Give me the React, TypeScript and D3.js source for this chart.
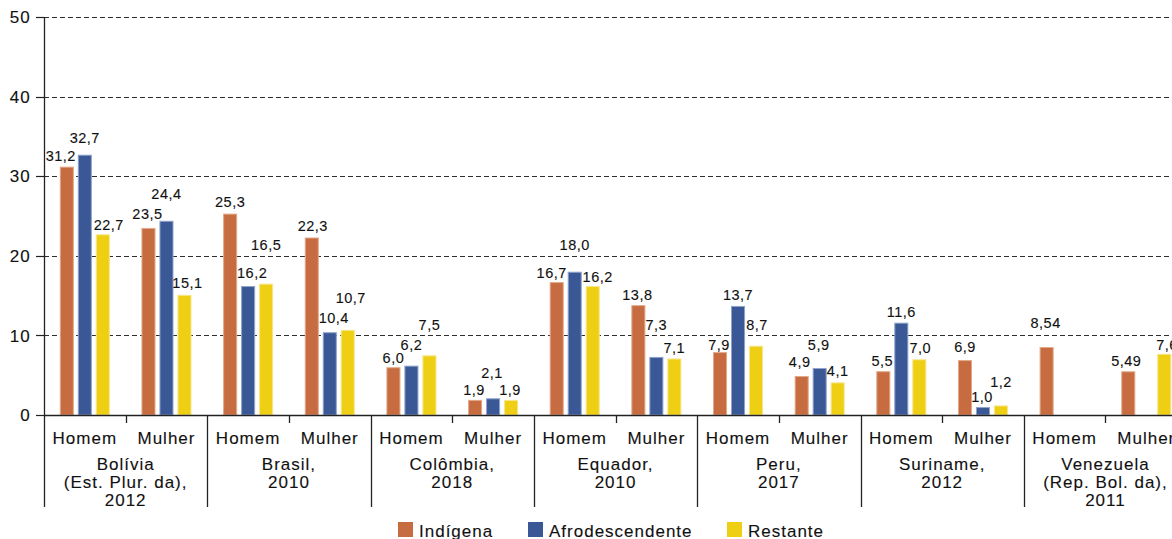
import React from 'react';
import * as d3 from 'd3';

const countries = [
  'Bolívia|(Est. Plur. da),|2012',
  'Brasil,|2010',
  'Colômbia,|2018',
  'Equador,|2010',
  'Peru,|2017',
  'Suriname,|2012',
  'Venezuela|(Rep. Bol. da),|2011',
];
const sexes = ['Homem', 'Mulher'];
const seriesNames = ['Indígena', 'Afrodescendente', 'Restante'];

const indigenaHomem = [31.2, 25.3, 6.0, 16.7, 7.9, 5.5, 8.54];
const indigenaMulher = [23.5, 22.3, 1.9, 13.8, 4.9, 6.9, 5.49];
const afroHomem = [32.7, 16.2, 6.2, 18.0, 13.7, 11.6, null];
const afroMulher = [24.4, 10.4, 2.1, 7.3, 5.9, 1.0, null];
const restanteHomem = [22.7, 16.5, 7.5, 16.2, 8.7, 7.0, null];
const restanteMulher = [15.1, 10.7, 1.9, 7.1, 4.1, 1.2, 7.69];
const decimals = [1, 1, 1, 1, 1, 1, 2];
const yTicks = [0, 10, 20, 30, 40, 50];

const values: (number | null)[][][] = [
  [indigenaHomem, indigenaMulher],
  [afroHomem, afroMulher],
  [restanteHomem, restanteMulher],
];

// label nudges [dx, lift above bar top] in px (layout only)
const labelNudge: number[][][][] = [
  [
    [[-6, 6], [0, 7], [0, 4], [-5, 4], [-1, 2], [-1, 5], [-1, 19]],
    [[-1, 9], [1, 6], [-1, 5], [-1, 5], [-2, 9], [0, 8], [-2, 5]],
  ],
  [
    [[0, 12], [4, 8], [0, 16], [0, 22], [0, 6], [0, 6], [0, 0]],
    [[0, 22], [4, 9], [-1, 20], [0, 27], [-1, 18], [-1, 5], [0, 0]],
  ],
  [
    [[6, 4], [0, 34], [0, 25], [5, 4], [1, 16], [1, 6], [0, 0]],
    [[3, 7], [3, 27], [-1, 5], [0, 5], [0, 6], [0, 18], [7, 4]],
  ],
];

const colors = ['#c76c41', '#3a5896', '#efcf14'];
const strokes = ['#e2a888', '#8fa3cc', '#f7e58a'];

const W = 1172;
const H = 539;
const left = 44;
const groupW = 163.3;
const y0 = 415;
const yTop = 17;
const sepBottom = 507;
const font = '"Liberation Sans", Arial, Helvetica, sans-serif';
const ink = '#111';
const textStroke = { stroke: '#111', strokeWidth: 0.12 };

const ptLocale = d3.formatLocale({ decimal: ',', thousands: '.', grouping: [3], currency: ['', ''] });

export default function App() {
  const x0 = d3.scaleBand<number>().domain(d3.range(countries.length)).range([left, left + groupW * countries.length]).padding(0);
  const x1 = d3.scaleBand<string>().domain(sexes).range([0, x0.bandwidth()]).padding(0);
  const x2 = d3.scaleBand<number>().domain([0, 1, 2]).range([-27, 27]).paddingInner(0.22).paddingOuter(0.11);
  const y = d3.scaleLinear().domain([0, 50]).range([y0, yTop]);

  const bars: React.ReactNode[] = [];
  const labels: React.ReactNode[] = [];
  values.forEach((bySex, s) => {
    bySex.forEach((arr, k) => {
      arr.forEach((v, c) => {
        if (v == null) return;
        const center = (x0(c) as number) + (x1(sexes[k]) as number) + x1.bandwidth() / 2;
        const bx = center + (x2(s) as number);
        const top = y(v);
        bars.push(
          <rect key={`b${s}-${k}-${c}`} x={bx + 0.5} y={top + 0.5} width={x2.bandwidth() - 1} height={y0 - top - 0.5}
            fill={colors[s]} stroke={strokes[s]} strokeWidth={1} />
        );
        const [dx, lift] = labelNudge[s][k][c];
        labels.push(
          <text key={`l${s}-${k}-${c}`} x={bx + x2.bandwidth() / 2 + dx} y={top - lift} textAnchor="middle"
            fontSize={14.5} letterSpacing={0.5} fill={ink} {...textStroke} fontFamily={font}>
            {ptLocale.format(`.${decimals[c]}f`)(v)}
          </text>
        );
      });
    });
  });

  const legendItems = [
    { x: 398, tx: 419 },
    { x: 528, tx: 549 },
    { x: 727, tx: 748 },
  ];

  return (
    <div style={{ position: 'absolute', left: 0, top: 0 }}>
      <svg width={W} height={H} style={{ display: 'block', background: '#fff' }} fontFamily={font}>
        {/* gridlines */}
        {yTicks.filter(t => t > 0).map(t => (
          <line key={`g${t}`} x1={left} x2={W} y1={Math.round(y(t)) + 0.5} y2={Math.round(y(t)) + 0.5}
            stroke="#2e2e2e" strokeWidth={1} strokeDasharray="5,3" />
        ))}
        {/* y ticks and labels */}
        {yTicks.map(t => (
          <g key={`t${t}`}>
            <line x1={36} x2={left} y1={Math.round(y(t)) + 0.5} y2={Math.round(y(t)) + 0.5} stroke="#222" strokeWidth={1.2} />
            <text x={31} y={y(t)} dy="0.36em" textAnchor="end" fontSize={17} letterSpacing={1.2} fill={ink} {...textStroke}>{t}</text>
          </g>
        ))}
        {bars}
        {labels}
        {/* x axis baseline */}
        <line x1={left} x2={W} y1={y0 + 0.5} y2={y0 + 0.5} stroke="#222" strokeWidth={1.3} />
        {/* y axis */}
        <line x1={left + 0.5} x2={left + 0.5} y1={yTop} y2={sepBottom} stroke="#222" strokeWidth={1.3} />
        {/* group separators */}
        {countries.map((_, c) => c > 0 ? (
          <line key={`s${c}`} x1={Math.round(x0(c) as number) + 0.5} x2={Math.round(x0(c) as number) + 0.5} y1={y0} y2={sepBottom}
            stroke="#222" strokeWidth={1.3} />
        ) : null)}
        {/* sub ticks */}
        {countries.map((_, c) => {
          const xm = (x0(c) as number) + (x1('Mulher') as number);
          return <line key={`st${c}`} x1={Math.round(xm) + 0.5} x2={Math.round(xm) + 0.5} y1={y0} y2={y0 + 8} stroke="#222" strokeWidth={1.3} />;
        })}
        {/* sex labels */}
        {countries.map((_, c) => sexes.map(sx => (
          <text key={`sx${c}${sx}`} x={(x0(c) as number) + (x1(sx) as number) + x1.bandwidth() / 2} y={444}
            textAnchor="middle" fontSize={17} letterSpacing={1} fill={ink} {...textStroke}>{sx}</text>
        )))}
        {/* country labels */}
        {countries.map((name, c) => (
          <text key={`c${c}`} x={(x0(c) as number) + x0.bandwidth() / 2} y={470} textAnchor="middle" fontSize={17} letterSpacing={1} fill={ink} {...textStroke}>
            {name.split('|').map((ln, i) => (
              <tspan key={i} x={(x0(c) as number) + x0.bandwidth() / 2} dy={i === 0 ? 0 : 17.8}>{ln}</tspan>
            ))}
          </text>
        ))}
        {/* legend */}
        {seriesNames.map((n, i) => (
          <g key={`lg${i}`}>
            <rect x={legendItems[i].x} y={522} width={15} height={15} fill={colors[i]} />
            <text x={legendItems[i].tx} y={537} fontSize={17} letterSpacing={1} fill={ink} {...textStroke}>{n}</text>
          </g>
        ))}
      </svg>
    </div>
  );
}
